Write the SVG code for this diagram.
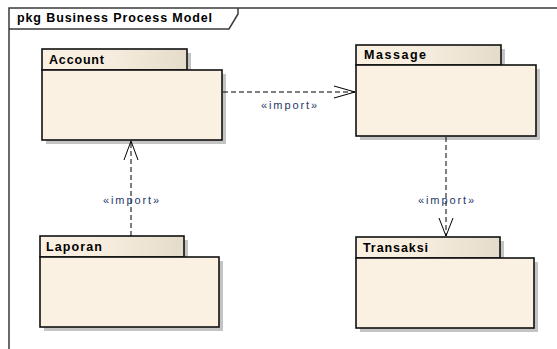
<svg xmlns="http://www.w3.org/2000/svg" width="557" height="349" viewBox="0 0 557 349">
<defs>
<linearGradient id="tabg" x1="0" y1="0" x2="1" y2="0">
<stop offset="0" stop-color="#FBF1E3"/>
<stop offset="0.5" stop-color="#F6ECDD"/>
<stop offset="1" stop-color="#E5DBCA"/>
</linearGradient>
</defs>
<style>
.shadow{fill:#C4C4C4}
.body{fill:#FBF1E3;stroke:#111;stroke-width:1.6}
.tab{fill:url(#tabg);stroke:#111;stroke-width:1.6}
.name{font-family:"Liberation Sans",Arial,sans-serif;font-size:12.5px;font-weight:bold;fill:#000}
.lbl{font-family:"Liberation Sans",Arial,sans-serif;font-size:11px;fill:#1F3868}
.dep{fill:none;stroke:#000;stroke-width:1;stroke-dasharray:5,3}
.head{fill:none;stroke:#000;stroke-width:1}
.frame{fill:none;stroke:#3A3A3A;stroke-width:1.5}
</style>
<rect width="557" height="349" fill="#fff"/>
<g id="frame">
<path class="frame" d="M9,349 V8 H557"/>
<path class="frame" d="M9,29 H229 L238,14 V8"/>
<text x="17" y="22" class="name" textLength="195" lengthAdjust="spacing">pkg Business Process Model</text>
</g>
<g id="account">
<path class="shadow" d="M46,53 H191 V74 H226 V144 H46 Z"/>
<rect class="tab" x="42" y="49" width="145" height="21"/>
<rect class="body" x="42" y="70" width="180" height="70"/>
<text x="49" y="64" class="name" textLength="55" lengthAdjust="spacing">Account</text>
</g>
<g id="massage">
<path class="shadow" d="M360,49 H505 V69 H540 V140 H360 Z"/>
<rect class="tab" x="356" y="45" width="145" height="20"/>
<rect class="body" x="356" y="65" width="180" height="71"/>
<text x="364" y="59" class="name" textLength="62" lengthAdjust="spacing">Massage</text>
</g>
<g id="laporan">
<path class="shadow" d="M44,240 H188 V261 H223 V331 H44 Z"/>
<rect class="tab" x="40" y="236" width="144" height="21"/>
<rect class="body" x="40" y="257" width="179" height="70"/>
<text x="46" y="251" class="name" textLength="56" lengthAdjust="spacing">Laporan</text>
</g>
<g id="transaksi">
<path class="shadow" d="M360,241 H504 V262 H538 V332 H360 Z"/>
<rect class="tab" x="356" y="237" width="144" height="21"/>
<rect class="body" x="356" y="258" width="178" height="70"/>
<text x="363" y="252" class="name" textLength="65" lengthAdjust="spacing">Transaksi</text>
</g>
<g id="connectors">
<line class="dep" x1="223" y1="92" x2="355" y2="92"/>
<path class="head" d="M334,86 L355,92 L334,98"/>
<text x="289" y="109" class="lbl" text-anchor="middle" textLength="56" lengthAdjust="spacing">«import»</text>
<line class="dep" x1="131" y1="236" x2="131" y2="141"/>
<path class="head" d="M124,160 L131,141 L138,160"/>
<text x="131" y="204" class="lbl" text-anchor="middle" textLength="56" lengthAdjust="spacing">«import»</text>
<line class="dep" x1="446" y1="137" x2="446" y2="236"/>
<path class="head" d="M439,218 L446,236 L453,218"/>
<text x="446" y="204" class="lbl" text-anchor="middle" textLength="56" lengthAdjust="spacing">«import»</text>
</g>
</svg>
